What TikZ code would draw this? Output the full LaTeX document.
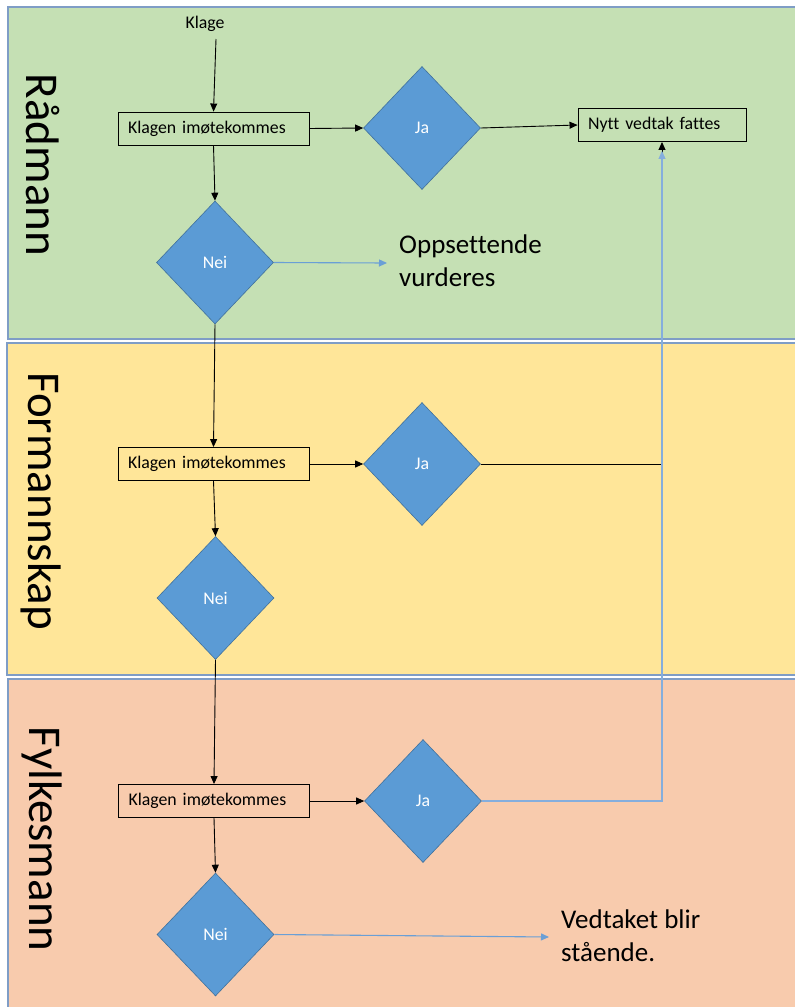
\documentclass[tikz,border=0pt]{standalone}
\usepackage{fontspec}
\setmainfont{Carlito}[Ligatures=NoCommon]
\usetikzlibrary{shapes.geometric,arrows.meta}
\definecolor{lanegreen}{HTML}{C5E0B4}
\definecolor{laneyellow}{HTML}{FFE699}
\definecolor{lanered}{HTML}{F8CBAD}
\definecolor{laneborder}{HTML}{7F9DC6}
\definecolor{dfill}{HTML}{5B9BD5}
\definecolor{dborder}{HTML}{41719C}
\definecolor{bline}{HTML}{6A9FD6}
\definecolor{bline2}{HTML}{85AEDD}
\begin{document}
\begin{tikzpicture}[x=1pt,y=-1pt,
 lane/.style={fill=#1, draw=laneborder, line width=1.3pt},
 lanelabel/.style={rotate=-90, font=\fontsize{47}{56}\selectfont, inner sep=0pt},
 procbox/.style={draw=black, line width=0.9pt, font=\fontsize{17.8}{21}\selectfont, align=left, inner xsep=10pt, inner ysep=0pt, minimum height=33pt},
 decision/.style={diamond, fill=dfill, draw=dborder, line width=0.6pt, minimum width=117pt, minimum height=123pt, inner sep=0pt, text=white, font=\fontsize{17.8}{21}\selectfont},
 flow/.style={draw=black, line width=0.9pt, -{Triangle[length=8pt,width=7pt]}},
 bflow/.style={draw=#1, line width=1.1pt, -{Triangle[length=8pt,width=7pt]}},
 note/.style={font=\fontsize{27}{33}\selectfont, align=left, inner sep=0pt, anchor=north west},
 small/.style={font=\fontsize{17.8}{21}\selectfont, inner sep=0pt}
]
\useasboundingbox (0,0) rectangle (795,1007);
\clip (0,0) rectangle (795,1007);
% lanes
\path[lane=lanegreen] (8,7) rectangle (830,339);
\path[lane=laneyellow] (7,343) rectangle (830,675);
\path[lane=lanered] (8,679) rectangle (830,1040);
% lane labels
\node[lanelabel] (l1) at (43,165) {Rådmann};
\node[lanelabel] (l2) at (41,501) {Formannskap};
\node[lanelabel] (l3) at (42,839) {Fylkesmann};
% lane 1
\node[small] (klage) at (205,24) {Klage};
\coordinate (kstart) at (216,39);
\node[procbox, text width=171pt] (k1) at (213.5,128.5) {Klagen imøtekommes};
\node[decision] (ja1) at (422,128) {Ja};
\node[procbox, text width=148pt] (nytt) at (662,125) {Nytt vedtak fattes};
\node[decision] (nei1) at (215,262.5) {Nei};
\coordinate (opp) at (387,263);
\node[note] (opptxt) at (399,235) {Oppsettende\\vurderes};
% lane 2
\node[procbox, text width=171pt] (k2) at (213.5,464) {Klagen imøtekommes};
\node[decision] (ja2) at (422,464) {Ja};
\node[decision] (nei2) at (215.5,598) {Nei};
% lane 3
\node[procbox, text width=171pt] (k3) at (214,801) {Klagen imøtekommes};
\node[decision] (ja3) at (423,801) {Ja};
\node[decision] (nei3) at (215.5,934.5) {Nei};
\coordinate (vend) at (549,937);
\node[note] (vtxt) at (561,910) {Vedtaket blir\\stående.};
% connectors
\draw[flow] (kstart) -- (k1.north);
\draw[flow] (k1.east) -- (ja1.west);
\draw[flow] (ja1.east) -- (nytt.west);
\draw[flow] (k1.south) -- (nei1.north);
\draw[bflow=bline] (nei1.east) -- (opp);
\draw[flow] (nei1.south) -- (k2.north);
\draw[flow] (k2.east) -- (ja2.west);
\draw[flow] (ja2.east) -| (nytt.south);
\draw[flow] (k2.south) -- (nei2.north);
\draw[flow] (nei2.south) -- (k3.north);
\draw[flow] (k3.east) -- (ja3.west);
\draw[bflow=bline2] (ja3.east) -| ([yshift=-9pt]nytt.south);
\draw[flow] (k3.south) -- (nei3.north);
\draw[bflow=bline] (nei3.east) -- (vend);
\end{tikzpicture}
\end{document}
